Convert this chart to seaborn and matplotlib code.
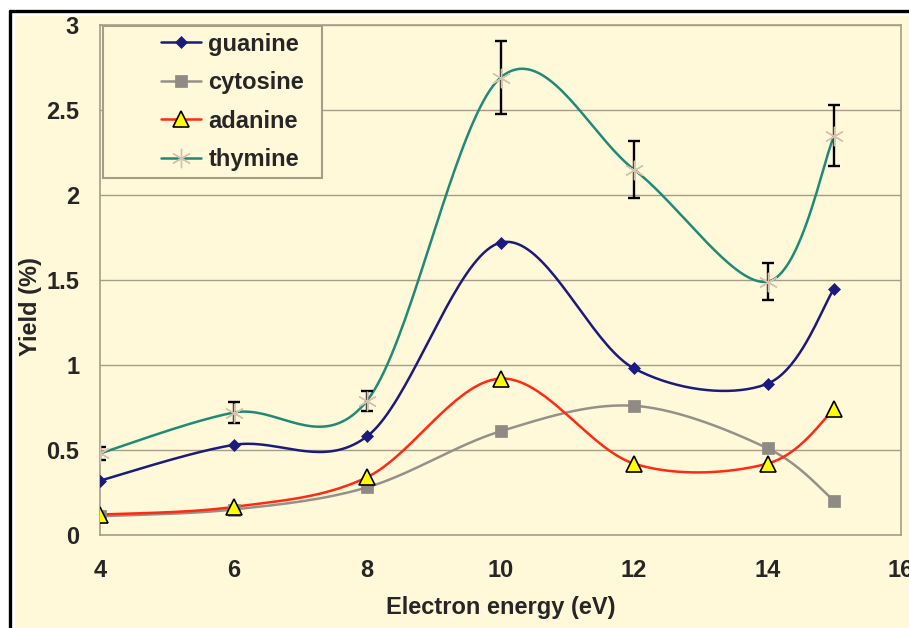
import numpy as np
import pandas as pd
import seaborn as sns
import matplotlib
matplotlib.use('Agg')
import matplotlib.pyplot as plt
from matplotlib.lines import Line2D
from matplotlib.patches import Rectangle

energy = [4, 6, 8, 10, 12, 14, 15]
guanine = [0.32, 0.53, 0.58, 1.72, 0.98, 0.89, 1.45]
cytosine = [0.11, 0.15, 0.28, 0.61, 0.76, 0.51, 0.20]
adanine = [0.12, 0.165, 0.34, 0.92, 0.42, 0.42, 0.74]
thymine = [0.48, 0.72, 0.79, 2.69, 2.15, 1.49, 2.35]
thymine_err = [0.04, 0.06, 0.06, 0.215, 0.17, 0.11, 0.18]

BG = '#FFF9DA'
GRID = '#A89C86'
FS = 17


def smooth(xs, ys, n=40):
    # Excel-style smoothed line: cubic Bezier with Catmull-Rom control points
    p = np.column_stack([xs, ys]).astype(float)
    p = np.vstack([p[0], p, p[-1]])
    out = []
    for i in range(1, len(p) - 2):
        p0, p1, p2, p3 = p[i - 1], p[i], p[i + 1], p[i + 2]
        c1 = p1 + (p2 - p0) / 6
        c2 = p2 - (p3 - p1) / 6
        t = np.linspace(0, 1, n)[:, None]
        seg = ((1 - t) ** 3) * p1 + 3 * ((1 - t) ** 2) * t * c1 + 3 * (1 - t) * t ** 2 * c2 + t ** 3 * p2
        out.append(seg if i == 1 else seg[1:])
    seg = np.vstack(out)
    return pd.DataFrame({'x': seg[:, 0], 'y': seg[:, 1]})


sns.set_style('white')
plt.rcParams['font.family'] = ['Liberation Sans', 'DejaVu Sans']
plt.rcParams['font.weight'] = 'bold'

fig = plt.figure(figsize=(9.09, 6.28), dpi=100, facecolor='white')
fig.patches.append(Rectangle((15 / 909, 0), 1, 1 - 16 / 628, transform=fig.transFigure,
                             facecolor=BG, edgecolor='none', zorder=-10))
fig.lines.append(Line2D([9.5 / 909, 1], [1 - 10.5 / 628] * 2, transform=fig.transFigure,
                        color='black', lw=2.4, zorder=-5))
fig.lines.append(Line2D([9.5 / 909] * 2, [0, 1 - 10.5 / 628], transform=fig.transFigure,
                        color='black', lw=2.4, zorder=-5))

ax = fig.add_axes([100 / 909, 1 - 535 / 628, 801 / 909, 510 / 628])
ax.set_facecolor(BG)

series = [
    ('guanine', guanine, '#1B1B7E', dict(marker='D', ms=6.5, mfc='#1B1B7E', mec='#1B1B7E', mew=0.5)),
    ('cytosine', cytosine, '#969088', dict(marker='s', ms=8, mfc='#8F8A84', mec='#8F8A84', mew=0.5)),
    ('adanine', adanine, '#FF2A12', dict(marker='^', ms=11, mfc='#FFFF00', mec='black', mew=1.2)),
    ('thymine', thymine, '#1F8A76', dict(marker=(6, 2, 0), ms=14, mfc='#D9C2AC', mec='#D9C2AC', mew=1.0)),
]

handles = []
for name, vals, color, mk in series:
    curve = smooth(energy, vals)
    sns.lineplot(data=curve, x='x', y='y', sort=False, estimator=None, color=color, lw=1.8, ax=ax, zorder=3)
    if name == 'thymine':
        ax.errorbar(energy, vals, yerr=thymine_err, fmt='none', ecolor='black', elinewidth=1.7,
                    capsize=4, capthick=1.7, zorder=4)
    ax.plot(energy, vals, ls='none', zorder=5, **mk)
    handles.append(Line2D([0], [0], color=color, lw=1.8, **mk))

ax.set_xlim(4, 16)
ax.set_ylim(0, 3)
ax.set_xticks(range(4, 17, 2))
ax.set_yticks([0, 0.5, 1, 1.5, 2, 2.5, 3])
ax.set_yticklabels(['0', '0.5', '1', '1.5', '2', '2.5', '3'])
ax.yaxis.grid(True, color=GRID, lw=1.0)
ax.set_axisbelow(True)
for s in ax.spines.values():
    s.set_color(GRID)
    s.set_linewidth(1.2)
ax.tick_params(axis='both', direction='out', length=6, width=1, color=GRID, labelsize=FS)
ax.tick_params(axis='x', pad=11)
ax.tick_params(axis='y', pad=9)
for lab in ax.get_xticklabels() + ax.get_yticklabels():
    lab.set_fontweight('bold')

ax.set_xlabel('Electron energy (eV)', fontsize=FS, fontweight='bold')
ax.xaxis.set_label_coords(0.5, -0.12)
ax.set_ylabel('Yield (%)', fontsize=FS, fontweight='bold')
ax.yaxis.set_label_coords(-0.073, 0.447)

# legend box
ax.add_patch(Rectangle((0.004, 0.700), 0.273, 0.299, transform=ax.transAxes, facecolor=BG,
                       edgecolor=GRID, lw=1.5, zorder=6))
leg = ax.legend(handles, [s[0] for s in series], loc='upper left', bbox_to_anchor=(0.067, 1.0),
                frameon=False, fontsize=FS, handlelength=1.7, handletextpad=0.3,
                labelspacing=0.66, borderpad=0.32, borderaxespad=0)
leg.set_zorder(7)
for t in leg.get_texts():
    t.set_fontweight('bold')

fig.savefig('out.png', dpi=100, facecolor='white')
